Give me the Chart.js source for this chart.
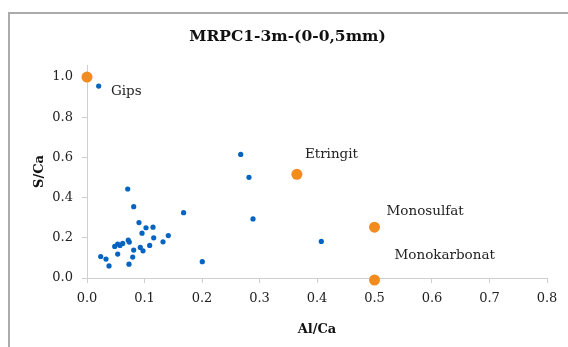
<!DOCTYPE html>
<html>
<head>
<meta charset="utf-8">
<script src="https://cdn.jsdelivr.net/npm/chart.js@4/dist/chart.umd.min.js"></script>
<style>
  html, body { margin: 0; padding: 0; background: #fff; }
  #wrap { position: relative; width: 568px; height: 347px; overflow: hidden; }
  #frame { position: absolute; left: 8px; top: 12px; width: 700px; height: 500px; border: 2px solid #ababab; box-sizing: border-box; }
  #c { position: absolute; left: 0; top: 0; }
</style>
</head>
<body>
<div id="wrap">
  <div id="frame"></div>
  <canvas id="c" width="568" height="347"></canvas>
</div>
<script>
// Measured points (Al/Ca, S/Ca)
const measuredX = [0.0708, 0.0812, 0.0904, 0.0957, 0.1026, 0.1148, 0.1160, 0.1414, 0.1322, 0.1090, 0.0974, 0.0927, 0.0812, 0.0795, 0.0730, 0.0718, 0.0736, 0.0621, 0.0574, 0.0534, 0.0482, 0.0534, 0.0238, 0.0330, 0.0383, 0.1680, 0.2005, 0.2673, 0.2817, 0.2887, 0.4075, 0.0203];
const measuredY = [0.443, 0.355, 0.276, 0.223, 0.250, 0.253, 0.200, 0.211, 0.180, 0.162, 0.135, 0.152, 0.139, 0.104, 0.069, 0.188, 0.179, 0.172, 0.162, 0.169, 0.157, 0.119, 0.107, 0.094, 0.060, 0.325, 0.081, 0.615, 0.501, 0.294, 0.182, 0.955];
// Reference phases
const phaseNames = ["Gips", "Etringit", "Monosulfat", "Monokarbonat"];
const phaseX = [0.0, 0.365, 0.5, 0.5];
const phaseY = [1.0, 0.516, 0.253, -0.01];
const xTicks = [0, 0.1, 0.2, 0.3, 0.4, 0.5, 0.6, 0.7, 0.8];
const yTicks = [0, 0.2, 0.4, 0.6, 0.8, 1.0];
// label offsets (px) relative to phase points
const labelDX = [24, 8, 12, 20];
const labelDY = [14, -20, -16, -25];

const FONT = "'DejaVu Serif', serif";
const AXIS = '#cfcfcf';

const labelPlugin = {
  id: 'phaseLabels',
  afterDatasetsDraw(chart) {
    const ctx = chart.ctx;
    const xs = chart.scales.x, ys = chart.scales.y;
    ctx.save();
    ctx.font = "13.5px " + FONT;
    ctx.fillStyle = '#222';
    ctx.textAlign = 'left';
    ctx.textBaseline = 'middle';
    phaseNames.forEach((n, i) => {
      ctx.fillText(n, xs.getPixelForValue(phaseX[i]) + labelDX[i], ys.getPixelForValue(phaseY[i]) + labelDY[i]);
    });
    ctx.restore();
  }
};

new Chart(document.getElementById('c'), {
  type: 'scatter',
  data: {
    datasets: [
      {
        label: 'Messpunkte',
        data: measuredX.map((x, i) => ({x, y: measuredY[i]})),
        backgroundColor: '#0563c1',
        borderColor: '#0563c1',
        pointRadius: 2.6,
        borderWidth: 0,
        clip: false
      },
      {
        label: 'Phasen',
        data: phaseX.map((x, i) => ({x, y: phaseY[i]})),
        backgroundColor: '#f28c1e',
        borderColor: '#f28c1e',
        pointRadius: 5.5,
        borderWidth: 0,
        clip: false
      }
    ]
  },
  plugins: [labelPlugin],
  options: {
    responsive: false,
    animation: false,
    events: [],
    layout: { padding: { left: 28, right: 21, top: 0, bottom: 0 } },
    plugins: {
      legend: { display: false },
      tooltip: { enabled: false },
      title: {
        display: true,
        text: 'MRPC1-3m-(0-0,5mm)',
        color: '#111',
        font: { family: FONT, size: 15.5, weight: 'bold' },
        padding: { top: 28, bottom: 18.4 }
      }
    },
    scales: {
      x: {
        type: 'linear',
        min: 0, max: 0.8,
        afterBuildTicks(s) { s.ticks = xTicks.map(v => ({value: v})); },
        afterFit(s) { s.height = 69; },
        ticks: {
          color: '#222',
          font: { family: FONT, size: 13 },
          padding: 8,
          maxRotation: 0,
          callback: v => Number(v).toFixed(1)
        },
        grid: { display: true, drawOnChartArea: false, drawTicks: true, tickLength: 5, color: AXIS },
        border: { display: true, color: AXIS, width: 1 },
        title: {
          display: true, text: 'Al/Ca', color: '#111',
          font: { family: FONT, size: 13, weight: 'bold' },
          padding: { top: 4, bottom: 10 }
        }
      },
      y: {
        type: 'linear',
        min: 0, max: 1.06,
        afterBuildTicks(s) { s.ticks = yTicks.map(v => ({value: v})); },
        afterFit(s) { s.width = 59; },
        ticks: {
          color: '#222',
          font: { family: FONT, size: 13 },
          padding: 9,
          callback: v => Number(v).toFixed(1)
        },
        grid: { display: true, drawOnChartArea: false, drawTicks: true, tickLength: 5, color: AXIS },
        border: { display: true, color: AXIS, width: 1 },
        title: {
          display: true, text: 'S/Ca', color: '#111',
          font: { family: FONT, size: 13, weight: 'bold' },
          padding: { top: 4, bottom: 4 }
        }
      }
    }
  }
});
</script>
</body>
</html>
